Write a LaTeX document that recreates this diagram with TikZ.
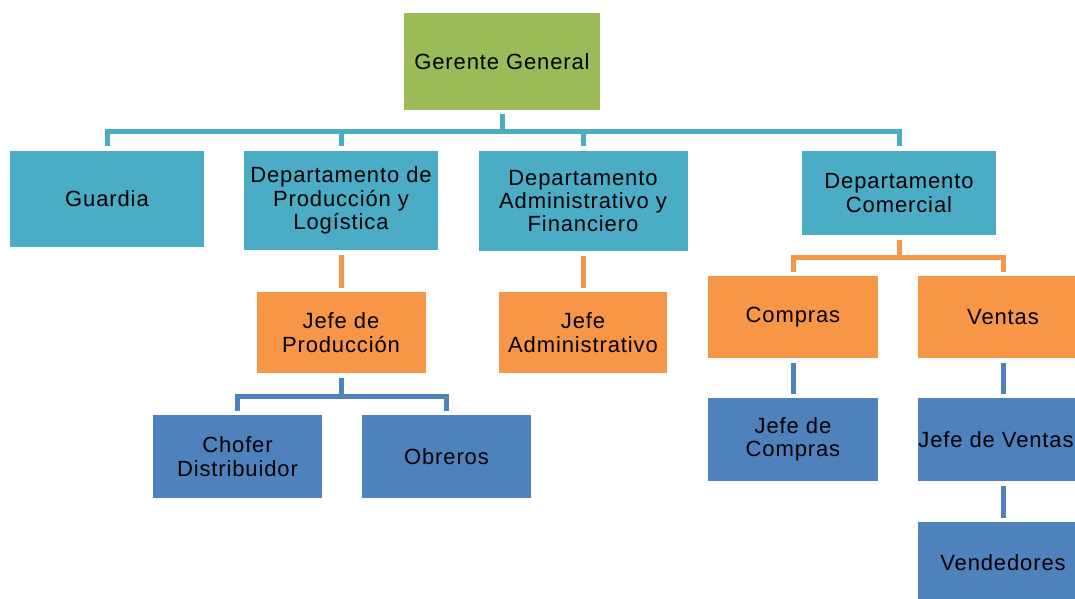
\documentclass[tikz,border=0pt]{standalone}
\usepackage{fontspec}
\setmainfont[LetterSpace=4]{Liberation Sans}
\definecolor{verde}{HTML}{9BBB59}
\definecolor{turq}{HTML}{4BACC6}
\definecolor{naranja}{HTML}{F79646}
\definecolor{azul}{HTML}{4F81BD}
\tikzset{
    box/.style={rectangle,inner sep=0pt,align=center,font=\fontsize{22}{23.3}\selectfont},
    elbow/.style={to path={(\tikztostart.south) -- ++(0,#1) -| (\tikztotarget.north)}},
}
\begin{document}
\begin{tikzpicture}[x=1pt,y=-1pt]
            \useasboundingbox (0,0) rectangle (1075,599);
            \clip (0,0) rectangle (1075,599);
            \begin{scope}[every node/.style={box}]
                \node[fill=verde,minimum width=196,minimum height=97] (gg) at (502,61.5) {Gerente General};
                \node[fill=turq,minimum width=194,minimum height=96] (guard) at (107,199) {Guardia};
                \node[fill=turq,minimum width=194,minimum height=99] (prod) at (341,200.5) {Departamento de\\Producción y\\Logística};
                \node[fill=turq,minimum width=209,minimum height=100] (adm) at (583,201) {Departamento\\Administrativo y\\Financiero};
                \node[fill=turq,minimum width=194,minimum height=84] (com) at (899,193) {Departamento\\Comercial};
            \end{scope}
            \begin{scope}[every node/.style={box,fill=naranja}]
                \node[minimum width=169,minimum height=81] (jp) at (341,332.5) {Jefe de\\Producción};
                \node[minimum width=168,minimum height=81] (ja) at (583,332.5) {Jefe\\Administrativo};
                \node[minimum width=170,minimum height=82] (compras) at (793,317) {Compras};
                \node[minimum width=170,minimum height=82] (ventas) at (1003,317) {Ventas};
            \end{scope}
            \begin{scope}[every node/.style={box,fill=azul}]
                \node[minimum width=169,minimum height=83] (chofer) at (237.5,456.5) {Chofer\\Distribuidor};
                \node[minimum width=169,minimum height=83] (obr) at (446.5,456.5) {Obreros};
                \node[minimum width=170,minimum height=83] (jc) at (793,439.5) {Jefe de\\Compras};
                \node[minimum width=170,minimum height=83] (jv) at (1003,439.5) {Jefe de Ventas\hspace*{14pt}};
                \node[minimum width=170,minimum height=82] (vend) at (1003,563) {Vendedores};
            \end{scope}
            \begin{scope}[every edge/.style={draw=turq,line width=5,shorten <=4,shorten >=5}]
                \path (gg) edge[elbow=21] (guard);
                \path (gg) edge[elbow=21] (prod);
                \path (gg) edge[elbow=21] (adm);
                \path (gg) edge[elbow=21] (com);
            \end{scope}
            \begin{scope}[every edge/.style={draw=naranja,line width=5,shorten <=5,shorten >=4}]
                \path (prod) edge (jp);
                \path (adm) edge (ja);
                \path (com) edge[elbow=22] (compras);
                \path (com) edge[elbow=22] (ventas);
            \end{scope}
            \begin{scope}[every edge/.style={draw=azul,line width=5,shorten <=5,shorten >=4}]
                \path (jp) edge[elbow=23] (chofer);
                \path (jp) edge[elbow=23] (obr);
                \path (compras) edge (jc);
                \path (ventas) edge (jv);
                \path (jv) edge (vend);
            \end{scope}
        \end{tikzpicture}
\end{document}
